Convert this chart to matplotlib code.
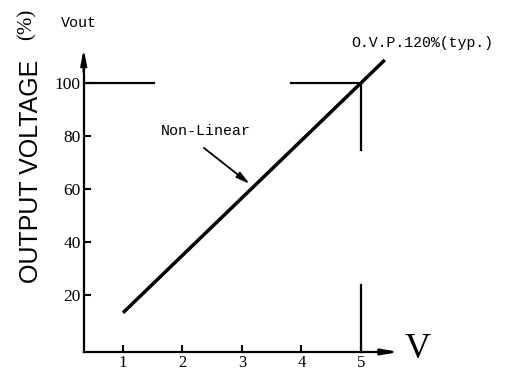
import matplotlib
matplotlib.use("Agg")
import matplotlib.pyplot as plt
from matplotlib import font_manager as fm

# ---- data ----
v_in = [1.0, 5.4]            # input (V)
v_out = [13.3, 108.7]        # output voltage (%)
x_ticks = [1, 2, 3, 4, 5]
x_tick_labels = ["1", "2", "3", "4", "5"]
y_ticks = [20, 40, 60, 80, 100]
y_tick_labels = ["20", "40", "60", "80", "100"]
ovp_level = 100
ovp_x = 5
h_segments = [(0.34, 1.52), (3.82, 5.0)]      # horizontal guide pieces at 100%
v_segments = [(74.7, 100), (-1.5, 23.8)]      # vertical guide pieces at x=5
arrow_from = (2.36, 75.5)
arrow_to = (3.13, 61.9)

# ---- fonts ----
names = {f.name for f in fm.fontManager.ttflist}
narrow = "Liberation Sans Narrow" if "Liberation Sans Narrow" in names else "Liberation Sans"
big_size = 22 if narrow == "Liberation Sans Narrow" else 18
serif = "Liberation Serif"
mono = "Liberation Mono"

fig = plt.figure(figsize=(5.10, 3.73), dpi=100)
ax = fig.add_axes([0, 0, 1, 1])
ax.set_xlim(-63.5 / 59.5, (510 - 63.5) / 59.5)
ax.set_ylim((348 - 373) / 2.65, 348 / 2.65)
ax.patch.set_alpha(0)

for s in ["top", "right"]:
    ax.spines[s].set_visible(False)
ax.spines["left"].set_position(("data", 0.34))
ax.spines["bottom"].set_position(("data", -1.5))
ax.spines["left"].set_bounds(-1.5, 108)
ax.spines["bottom"].set_bounds(0.34, 5.5)
ax.spines["left"].set_linewidth(1.6)
ax.spines["bottom"].set_linewidth(1.6)

ax.annotate("", xy=(0.34, 112.8), xytext=(0.34, 104),
            arrowprops=dict(arrowstyle="-|>,head_length=0.9,head_width=0.18",
                            lw=1.6, color="black", shrinkA=0, shrinkB=0))
ax.annotate("", xy=(5.63, -1.5), xytext=(5.4, -1.5),
            arrowprops=dict(arrowstyle="-|>,head_length=1.0,head_width=0.18",
                            lw=1.6, color="black", shrinkA=0, shrinkB=0))

ax.set_xticks(x_ticks)
ax.set_xticklabels(x_tick_labels, fontfamily=serif, fontsize=12)
ax.set_yticks(y_ticks)
ax.set_yticklabels(y_tick_labels, fontfamily=serif, fontsize=12.5)
ax.tick_params(axis="both", direction="in", length=5, width=1.5)
ax.tick_params(axis="x", pad=2)
ax.tick_params(axis="y", pad=2)

# main characteristic line
ax.plot(v_in, v_out, color="black", lw=2.5, solid_capstyle="butt")

# OVP guide lines
for x0, x1 in h_segments:
    ax.plot([x0, x1], [ovp_level, ovp_level], color="black", lw=1.6)
for y0, y1 in v_segments:
    ax.plot([ovp_x, ovp_x], [y0, y1], color="black", lw=1.6)

# annotation arrow
ax.annotate("", xy=arrow_to, xytext=arrow_from,
            arrowprops=dict(arrowstyle="-|>,head_length=0.8,head_width=0.2",
                            lw=1.3, color="black", shrinkA=0, shrinkB=0))

ax.text(1.64, 81.9, "Non-Linear", fontfamily=mono, fontsize=10.8,
        ha="left", va="center")
ax.text(4.83, 115.1, "O.V.P.120%(typ.)", fontfamily=mono, fontsize=10.7,
        ha="left", va="center")
ax.text(-0.04, 122.6, "Vout", fontfamily=mono, fontsize=10.8,
        ha="left", va="center")
ax.text(-0.61, 122.3, "(%)", fontfamily=serif, fontsize=15, rotation=90,
        ha="center", va="center")
ax.text(-0.546, 66.8, "OUTPUT VOLTAGE", fontfamily=narrow, fontsize=big_size,
        rotation=90, ha="center", va="center")
ax.text(5.95, -0.75, "V", fontfamily=serif, fontsize=26, ha="center",
        va="center")

fig.savefig("out.png", dpi=100)
